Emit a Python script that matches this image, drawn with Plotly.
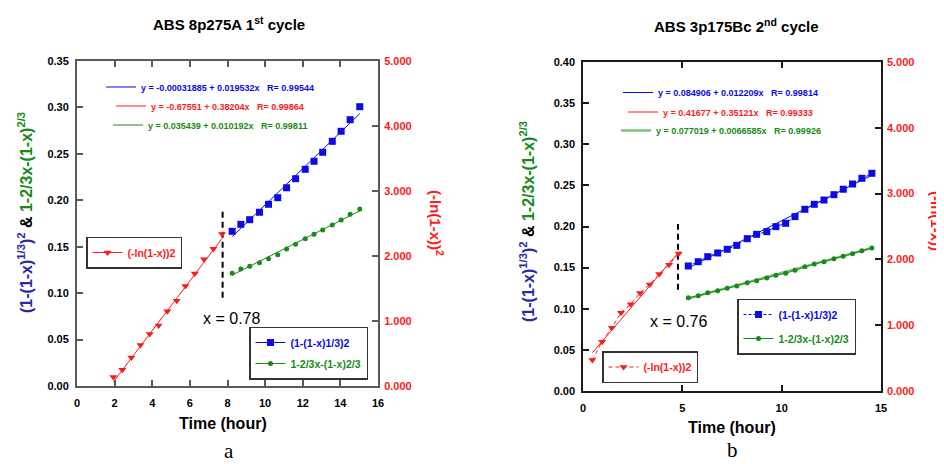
import plotly.graph_objects as go

W, H = 944, 464
OFF = 8  # the page body adds an 8px margin on the left and top
FONT = "Liberation Sans, Arial, sans-serif"

# ---------------- data: panel a (ABS 8p275A 1st cycle) ----------------
a_time_ln = [1.93, 2.41, 2.89, 3.37, 3.86, 4.34, 4.80, 5.30, 5.76, 6.26, 6.75, 7.25, 7.71]
a_ln2 = [0.14, 0.25, 0.44, 0.63, 0.80, 0.93, 1.15, 1.31, 1.54, 1.73, 1.95, 2.11, 2.34]
a_time = [8.25, 8.71, 9.18, 9.70, 10.18, 10.67, 11.14, 11.62, 12.13, 12.60, 13.06, 13.57, 14.04, 14.52, 15.03]
a_sq = [0.1666, 0.1741, 0.1791, 0.1871, 0.1957, 0.2028, 0.2135, 0.2232, 0.2334, 0.2420,
        0.2517, 0.2635, 0.2743, 0.2868, 0.3008]
a_gr = [0.1214, 0.1260, 0.1289, 0.1328, 0.1371, 0.1414, 0.1475, 0.1526, 0.1586, 0.1634,
        0.1680, 0.1734, 0.1788, 0.1849, 0.1906]
a_fit_sq = ("-0.00031885", "0.019532", "0.99544")
a_fit_ln = ("-0.67551", "0.38204", "0.99864")
a_fit_gr = ("0.035439", "0.010192", "0.99811")
a_split_time = [7.74, 7.74]
a_split_y = [0.095, 0.192]
a_split_label = "x = 0.78"

# ---------------- data: panel b (ABS 3p175Bc 2nd cycle) ----------------
b_time_ln = [0.47, 0.96, 1.45, 1.91, 2.40, 2.87, 3.36, 3.84, 4.33, 4.82]
b_ln2 = [0.47, 0.75, 0.96, 1.19, 1.32, 1.49, 1.62, 1.78, 1.92, 2.09]
b_time = [5.30, 5.80, 6.28, 6.78, 7.26, 7.74, 8.27, 8.74, 9.25, 9.71,
          10.20, 10.67, 11.17, 11.64, 12.13, 12.63, 13.10, 13.57, 14.04, 14.54]
b_sq = [0.1520, 0.1572, 0.1633, 0.1678, 0.1723, 0.1771, 0.1852, 0.1905, 0.1937, 0.1998,
        0.2039, 0.2120, 0.2209, 0.2270, 0.2322, 0.2387, 0.2453, 0.2517, 0.2586, 0.2647]
b_gr = [0.1134, 0.1159, 0.1195, 0.1220, 0.1249, 0.1277, 0.1317, 0.1341, 0.1374, 0.1407,
        0.1431, 0.1468, 0.1511, 0.1544, 0.1572, 0.1608, 0.1637, 0.1669, 0.1706, 0.1739]
b_fit_sq = ("0.084906", "0.012209", "0.99814")
b_fit_ln = ("0.41677", "0.35121", "0.99333")
b_fit_gr = ("0.077019", "0.0066585", "0.99926")
b_split_time = [4.78, 4.78]
b_split_y = [0.123, 0.203]
b_split_label = "x = 0.76"

name_ln = "(-ln(1-x))2"
name_sq = "(1-(1-x)1/3)2"
name_gr = "1-2/3x-(1-x)2/3"
xlabel = "Time (hour)"

BLUE = "#0a0ae6"
RED = "#ff1a1a"
GREEN = "#178a17"
NAVY = "#2a2aa8"


def eq_text(fit):
    b0, b1, r = fit
    return "<b>y = %s + %sx &nbsp; R= %s</b>" % (b0, b1, r)


def fit_line(fit, xs):
    b0, b1 = float(fit[0]), float(fit[1])
    xr = [min(xs), max(xs)]
    return xr, [b0 + b1 * v for v in xr]


def px_x(p):
    return (p - OFF) / W


def px_y(p):
    return 1 - (p - OFF) / H


fig = go.Figure()

# ---------------- panel a traces ----------------
xr, yr = fit_line(a_fit_sq, a_time)
fig.add_trace(go.Scatter(x=xr, y=yr, mode="lines", line=dict(color=BLUE, width=1),
                         name=eq_text(a_fit_sq), legend="legend3", xaxis="x", yaxis="y"))
xr, yr = fit_line(a_fit_ln, a_time_ln)
fig.add_trace(go.Scatter(x=xr, y=yr, mode="lines", line=dict(color=RED, width=1),
                         name=eq_text(a_fit_ln), legend="legend4", xaxis="x", yaxis="y2"))
xr, yr = fit_line(a_fit_gr, a_time)
fig.add_trace(go.Scatter(x=xr, y=yr, mode="lines", line=dict(color=GREEN, width=1),
                         name=eq_text(a_fit_gr), legend="legend5", xaxis="x", yaxis="y"))

fig.add_trace(go.Scatter(x=a_time_ln, y=a_ln2, mode="markers", showlegend=False,
                         marker=dict(symbol="triangle-down", size=7, color=RED),
                         xaxis="x", yaxis="y2"))
fig.add_trace(go.Scatter(x=a_time, y=a_sq, mode="markers", showlegend=False,
                         marker=dict(symbol="square", size=7, color=BLUE),
                         xaxis="x", yaxis="y"))
fig.add_trace(go.Scatter(x=a_time, y=a_gr, mode="markers", showlegend=False,
                         marker=dict(symbol="circle", size=5, color=GREEN),
                         xaxis="x", yaxis="y"))
# legend entries (panel a)
fig.add_trace(go.Scatter(x=[None], y=[None], mode="lines+markers",
                         line=dict(color=RED, width=1),
                         marker=dict(symbol="triangle-down", size=7, color=RED),
                         name="<b><span style='color:%s'>%s</span></b>" % (RED, name_ln),
                         legend="legend", legendgroup="a1", xaxis="x", yaxis="y2"))
fig.add_trace(go.Scatter(x=[None], y=[None], mode="lines+markers",
                         line=dict(color=BLUE, width=1),
                         marker=dict(symbol="square", size=7, color=BLUE),
                         name="<b><span style='color:%s'>%s</span></b>" % (BLUE, name_sq),
                         legend="legend2", legendgroup="a2", xaxis="x", yaxis="y"))
fig.add_trace(go.Scatter(x=[None], y=[None], mode="lines+markers",
                         line=dict(color=GREEN, width=1),
                         marker=dict(symbol="circle", size=5, color=GREEN),
                         name="<b><span style='color:%s'>%s</span></b>" % (GREEN, name_gr),
                         legend="legend2", legendgroup="a3", xaxis="x", yaxis="y"))
fig.add_trace(go.Scatter(x=a_split_time, y=a_split_y, mode="lines", showlegend=False,
                         line=dict(color="black", width=2, dash="6px,4px"),
                         xaxis="x", yaxis="y"))

# ---------------- panel b traces ----------------
xr, yr = fit_line(b_fit_sq, b_time)
fig.add_trace(go.Scatter(x=xr, y=yr, mode="lines", line=dict(color=BLUE, width=1),
                         name=eq_text(b_fit_sq), legend="legend8", xaxis="x2", yaxis="y3"))
xr, yr = fit_line(b_fit_ln, b_time_ln)
fig.add_trace(go.Scatter(x=xr, y=yr, mode="lines", line=dict(color=RED, width=1),
                         name=eq_text(b_fit_ln), legend="legend9", xaxis="x2", yaxis="y4"))
xr, yr = fit_line(b_fit_gr, b_time)
fig.add_trace(go.Scatter(x=xr, y=yr, mode="lines",
                         line=dict(color="rgba(40,150,40,0.6)", width=2.5),
                         name=eq_text(b_fit_gr), legend="legend10", xaxis="x2", yaxis="y3"))

fig.add_trace(go.Scatter(x=b_time_ln, y=b_ln2, mode="lines+markers",
                         line=dict(color=RED, width=1, dash="4px,3px"),
                         marker=dict(symbol="triangle-down", size=7, color=RED),
                         name="<b><span style='color:%s'>%s</span></b>" % (RED, name_ln),
                         legend="legend6", legendgroup="b1", xaxis="x2", yaxis="y4"))
fig.add_trace(go.Scatter(x=b_time, y=b_sq, mode="lines+markers",
                         line=dict(color=BLUE, width=1, dash="3px,2px"),
                         marker=dict(symbol="square", size=7, color=BLUE),
                         name="<b><span style='color:%s'>%s</span></b>" % (BLUE, name_sq),
                         legend="legend7", legendgroup="b2", xaxis="x2", yaxis="y3"))
fig.add_trace(go.Scatter(x=b_time, y=b_gr, mode="lines+markers",
                         line=dict(color=GREEN, width=1),
                         marker=dict(symbol="circle", size=5, color=GREEN),
                         name="<b><span style='color:%s'>%s</span></b>" % (GREEN, name_gr),
                         legend="legend7", legendgroup="b3", xaxis="x2", yaxis="y3"))
fig.add_trace(go.Scatter(x=b_split_time, y=b_split_y, mode="lines", showlegend=False,
                         line=dict(color="black", width=2, dash="6px,4px"),
                         xaxis="x2", yaxis="y3"))

# ---------------- axes ----------------
tickfont = dict(family=FONT, size=11, color="black", weight="bold")
redtick = dict(family=FONT, size=11, color=RED, weight="bold")


def xax(dom, rng, dt, lc, lw, **kw):
    return dict(domain=dom, range=rng, dtick=dt, tick0=0, showgrid=False, zeroline=False,
                showline=True, linecolor=lc, linewidth=lw, mirror="ticks", ticks="inside",
                ticklen=6, tickwidth=1.5, tickcolor=lc, tickfont=tickfont,
                ticklabelstandoff=6, fixedrange=True, **kw)


def yax(dom, rng, dt, fmt, lc, lw, font, side="left", standoff=4, **kw):
    return dict(domain=dom, range=rng, dtick=dt, tick0=0, tickformat=fmt, showgrid=False,
                zeroline=False, showline=True, linecolor=lc, linewidth=lw, ticks="inside",
                ticklen=6, tickwidth=1.5, tickcolor=lc, tickfont=font, side=side,
                ticklabelstandoff=standoff, fixedrange=True, **kw)


A_LC, B_LC = "#5a5a5a", "#1a1a1a"
a_xdom = [px_x(77), px_x(378)]
a_ydom = [px_y(386), px_y(61)]
b_xdom = [px_x(583), px_x(881)]
b_ydom = [px_y(391), px_y(62)]

fig.update_layout(
    xaxis=xax(a_xdom, [0, 16], 2, A_LC, 2, anchor="y"),
    yaxis=yax(a_ydom, [0, 0.35], 0.05, ".2f", A_LC, 2, tickfont, anchor="x"),
    yaxis2=yax(a_ydom, [0, 5], 1, ".3f", A_LC, 2, redtick, side="right", standoff=2,
               overlaying="y", anchor="x"),
    xaxis2=xax(b_xdom, [0, 15], 5, B_LC, 1.5, anchor="y3"),
    yaxis3=yax(b_ydom, [0, 0.40], 0.05, ".2f", B_LC, 1.5, tickfont, anchor="x2"),
    yaxis4=yax(b_ydom, [0, 5], 1, ".3f", B_LC, 1.5, redtick, side="right", standoff=2,
               overlaying="y3", anchor="x2"),
)


# ---------------- legends ----------------
def leg(left, top, bw, gap, size, bg):
    return dict(x=px_x(left), y=px_y(top), xref="paper", yref="paper", xanchor="left",
                yanchor="top", borderwidth=bw, bordercolor="#333333", bgcolor=bg,
                tracegroupgap=gap, traceorder="grouped",
                font=dict(family=FONT, size=size, color="black"))


CLEAR = "rgba(0,0,0,0)"
legends = {
    "legend": leg(86, 236.5, 1.5, 2, 10.5, "white"),
    "legend2": leg(249, 326.5, 1.5, 2, 10.5, "white"),
    "legend3": leg(101, 72.5, 0, 0, 9, CLEAR),
    "legend4": leg(111, 91.5, 0, 0, 9, CLEAR),
    "legend5": leg(108, 110.5, 0, 0, 9, CLEAR),
    "legend6": leg(602, 351, 1.5, 2, 10.5, "white"),
    "legend7": leg(737, 298.5, 1.5, 5, 10.5, "white"),
    "legend8": leg(618, 78, 0, 0, 9, CLEAR),
    "legend9": leg(623, 97.5, 0, 0, 9, CLEAR),
    "legend10": leg(616, 116, 0, 0, 9, CLEAR),
}
legends["legend3"]["font"]["color"] = BLUE
legends["legend4"]["font"]["color"] = RED
legends["legend5"]["font"]["color"] = GREEN
legends["legend8"]["font"]["color"] = BLUE
legends["legend9"]["font"]["color"] = RED
legends["legend10"]["font"]["color"] = GREEN
fig.update_layout(**legends)


# ---------------- annotations ----------------
def ann(text, x, y, size, color="black", angle=0, family=FONT):
    return dict(text=text, x=px_x(x), y=px_y(y), xref="paper", yref="paper",
                xanchor="center", yanchor="middle", showarrow=False, textangle=angle,
                font=dict(family=family, size=size, color=color))


left_title = ("<b><span style='color:%s'>(1-(1-x)<sup>1/3</sup>)<sup>2</sup></span>"
              " &amp; <span style='color:%s'>1-2/3x-(1-x)<sup>2/3</sup></span></b>") % (NAVY, GREEN)
right_title = "<b>(-ln(1-x))<sup>2</sup></b>"

annotations = [
    ann("<b>ABS 8p275A 1<sup>st</sup> cycle</b>", 229, 23, 15),
    ann("<b>ABS 3p175Bc 2<sup>nd</sup> cycle</b>", 736, 25, 15),
    ann("<b>%s</b>" % xlabel, 223, 423, 16),
    ann("<b>%s</b>" % xlabel, 732, 427, 16),
    ann("a", 229, 451, 21, family="Liberation Serif, serif"),
    ann("b", 732, 450, 21, family="Liberation Serif, serif"),
    ann(a_split_label, 231, 318, 16),
    ann(b_split_label, 678, 321, 16),
    ann(left_title, 25, 213, 16, angle=-90),
    ann(left_title, 527, 222, 16, angle=-90),
    ann(right_title, 437, 223, 15, color=RED, angle=90),
    ann(right_title, 937, 224, 15, color=RED, angle=90),
]

fig.update_layout(
    width=W, height=H,
    margin=dict(l=0, r=0, t=0, b=0, pad=0, autoexpand=False),
    paper_bgcolor="white", plot_bgcolor="white",
    font=dict(family=FONT),
    annotations=annotations,
    showlegend=True,
)

fig.write_html("out.html", config={"displayModeBar": False})
